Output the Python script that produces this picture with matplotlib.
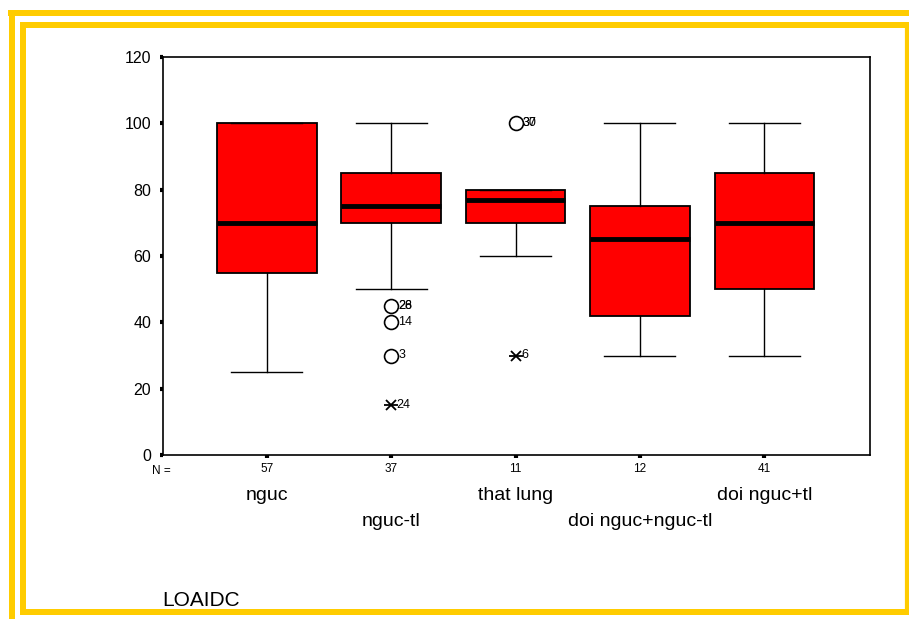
import numpy as np
import matplotlib
matplotlib.use('Agg')
from matplotlib import pyplot as plt
from matplotlib.lines import Line2D

plt.rcParams['font.family'] = ['Liberation Sans', 'DejaVu Sans']

categories = ['nguc', 'nguc-tl', 'that lung', 'doi nguc+nguc-tl', 'doi nguc+tl']
counts = [57, 37, 11, 12, 41]
q1 = [55, 70, 70, 42, 50]
med = [70, 75, 77, 65, 70]
q3 = [100, 85, 80, 75, 85]
whislo = [25, 50, 60, 30, 30]
whishi = [100, 100, 80, 100, 100]

# outliers: (group index, value, case labels)
circles = [(1, 45, ['26', '28']), (1, 40, ['14']), (1, 30, ['3']), (2, 100, ['37', '30'])]
stars = [(1, 15, ['24']), (2, 30, ['6'])]

fig = plt.figure(figsize=(9.09, 6.19), dpi=100)

# yellow frames
W, H = 909, 619
yel = '#ffcc00'
def px_line(x0, y0, x1, y1, lw):
    fig.add_artist(Line2D([x0 / W, x1 / W], [1 - y0 / H, 1 - y1 / H],
                          transform=fig.transFigure, color=yel, lw=lw,
                          solid_capstyle='butt'))
lw = 6 * 72 / 100
px_line(8, 13, 909, 13, lw)
px_line(12, 10, 12, 619, lw)
px_line(20, 25, 909, 25, lw)
px_line(23, 22, 23, 615, lw)
px_line(20, 612, 909, 612, lw)
px_line(907, 22, 907, 615, lw * 0.7)

ax = fig.add_axes([163 / W, 1 - 455 / H, (870 - 163) / W, (455 - 57) / H])

pos = np.arange(1, len(categories) + 1)
stats = []
for i in range(len(categories)):
    stats.append(dict(med=med[i], q1=q1[i], q3=q3[i], whislo=whislo[i],
                      whishi=whishi[i], fliers=[]))
ax.bxp(stats, positions=pos, widths=0.8, patch_artist=True, showfliers=False,
       boxprops=dict(facecolor='#ff0000', edgecolor='black', lw=1.3),
       medianprops=dict(color='black', lw=3.5),
       whiskerprops=dict(color='black', lw=1),
       capprops=dict(color='black', lw=1), capwidths=0.57)

for g, v, labs in circles:
    ax.plot(pos[g], v, 'o', ms=10, mfc='none', mec='black', mew=1.2, clip_on=False)
    for lab in labs:
        ax.annotate(lab, (pos[g], v), xytext=(5, 0), textcoords='offset points',
                    va='center', ha='left', fontsize=9)
for g, v, labs in stars:
    ax.plot(pos[g], v, 'x', ms=7, mec='black', mew=1.3)
    ax.plot(pos[g], v, '_', ms=10, mec='black', mew=1.3)
    for lab in labs:
        ax.annotate(lab, (pos[g], v), xytext=(4, 0), textcoords='offset points',
                    va='center', ha='left', fontsize=9)

ax.set_xlim(0.165, 5.85)
ax.set_ylim(0, 120)
ax.set_yticks([0, 20, 40, 60, 80, 100, 120])
ax.set_yticklabels(['0', '20', '40', '60', '80', '100', '120'], fontsize=11.5)
ax.set_xticks(pos)
ax.set_xticklabels([str(c) for c in counts], fontsize=8.5)
ax.tick_params(axis='both', direction='out', length=2.5, width=3)
ax.tick_params(axis='y', pad=6)
ax.tick_params(axis='x', pad=3)
for s in ax.spines.values():
    s.set_linewidth(1.2)

ax.text(-0.016, -0.04, 'N =', transform=ax.transAxes, fontsize=8.5, va='center', ha='left')

for i, c in enumerate(categories):
    ypx = 495 if i % 2 == 0 else 521
    xd = ax.transData.transform((pos[i], 0))[0]
    fig.text(xd / fig.dpi / fig.get_figwidth(), 1 - ypx / H, c, ha='center', va='center',
             fontsize=14)

fig.text(162 / W, 1 - 600 / H, 'LOAIDC', ha='left', va='center', fontsize=15)

fig.savefig('out.png', dpi=100)
